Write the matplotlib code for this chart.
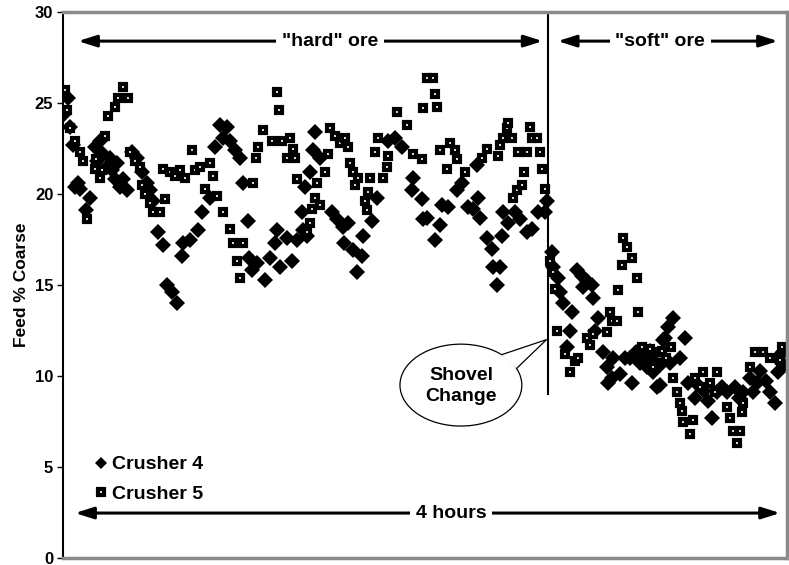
import matplotlib
matplotlib.use("Agg")
import matplotlib.pyplot as plt
from matplotlib.patches import Ellipse, Polygon
import numpy as np

plt.rcParams["font.family"] = ["Liberation Sans", "DejaVu Sans"]
plt.rcParams["font.weight"] = "bold"

# time in minutes since start, feed % coarse
c4_t = [0.3, 1.7, 2.3, 3.3, 4.0, 5.0, 5.6, 7.6, 9.0, 10.6, 11.3, 12.3, 13.3, 14.6,
        15.6, 16.2, 17.2, 17.9, 18.9, 19.9, 21.2, 22.9, 24.5, 26.2, 27.8, 28.8, 29.8,
        31.5, 33.2, 34.5, 36.1, 37.8, 39.4, 39.8, 42.1, 44.8, 46.1, 48.7, 50.4, 52.0,
        53.0, 54.4, 55.4, 57.0, 58.7, 59.7, 61.3, 61.8, 62.7, 64.3, 67.0, 68.6, 70.3,
        70.9, 71.9, 74.3, 75.9, 77.6, 79.2, 79.6, 80.2, 80.9, 81.9, 82.9, 83.5, 85.2,
        89.2, 90.8, 92.8, 93.2, 94.5, 96.1, 97.5, 99.1, 99.5, 102.4, 104.1, 107.7,
        110.1, 112.4, 115.7, 116.0, 119.0, 119.3, 120.7, 123.3, 125.0, 125.6, 127.6,
        130.6, 132.3, 134.3, 135.9, 137.2, 137.6, 138.2, 140.6, 142.2, 142.5, 143.9,
        144.9, 145.5, 145.9, 147.5, 149.8, 151.5, 153.8, 155.5, 157.5, 159.8, 160.5,
        162.1, 162.4, 164.1, 164.8, 165.8, 167.1, 168.1, 168.7, 170.4, 172.1, 172.4,
        173.7, 175.4, 175.7, 176.4, 177.4, 179.0, 180.3, 180.7, 182.0, 182.3, 184.6,
        186.3, 188.0, 188.6, 190.0, 191.3, 192.5, 193.6, 194.5, 195.6, 196.0, 196.9,
        197.9, 198.0, 198.9, 199.6, 200.6, 201.2, 202.2, 204.5, 206.2, 207.2, 209.5,
        210.5, 212.5, 213.8, 215.1, 216.8, 218.5, 220.1, 222.8, 224.0, 225.4, 227.7,
        228.8, 230.0, 231.1, 233.0, 234.4, 236.0, 236.7, 237.1, 238.7, 239.0]
c4_y = [24.4, 25.3, 23.7, 22.7, 20.4, 20.6, 20.3, 19.1, 19.8, 22.6, 21.8, 22.9, 22.2, 21.5,
        22.0, 21.3, 20.8, 21.7, 20.4, 20.8, 20.2, 22.3, 22.0, 21.2, 20.6, 20.2, 19.6,
        17.9, 17.2, 15.0, 14.6, 14.0, 16.6, 17.3, 17.5, 18.0, 19.0, 19.8, 22.6, 23.8,
        23.1, 23.7, 22.9, 22.4, 22.0, 20.6, 18.5, 16.5, 15.8, 16.2, 15.3, 16.5, 17.3,
        18.0, 16.0, 17.6, 16.3, 17.5, 19.0, 18.0, 20.4, 17.7, 21.2, 22.4, 23.4, 22.0,
        19.0, 18.6, 18.2, 17.3, 18.4, 16.9, 15.7, 16.6, 17.7, 18.5, 19.8, 22.9,
        23.1, 22.6, 20.2, 20.9, 19.7, 18.6, 18.7, 17.5, 18.3, 19.4, 19.3,
        20.2, 20.6, 19.3, 19.2, 21.6, 19.8, 18.7, 17.6, 17.0, 16.0, 15.0,
        16.0, 17.7, 19.0, 18.4, 19.0, 18.6, 17.9, 18.1, 19.0, 19.0, 19.6,
        16.8, 16.0, 15.4, 14.6, 14.0, 11.6, 12.5, 13.5, 15.8, 15.5, 14.9,
        15.2, 15.0, 14.3, 12.5, 13.2, 11.3, 10.5, 9.6, 9.9, 11.0, 10.1,
        11.0, 11.0, 9.6, 11.3, 10.7, 11.0, 10.5, 11.4, 10.2, 10.8, 9.4,
        9.5, 10.6, 12.0, 12.1, 12.7, 10.7, 13.2, 11.0, 12.1, 9.6, 8.8,
        9.5, 9.2, 8.6, 7.7, 9.1, 9.4, 9.1, 9.4, 8.8, 9.1, 9.9,
        9.1, 9.6, 10.3, 9.7, 9.1, 8.5, 11.0, 10.2, 11.3, 10.6]

c5_t = [0.7, 1.3, 2.3, 4.0, 5.6, 6.6, 8.0, 10.6, 10.9, 12.3, 12.9, 13.9, 14.9, 17.2,
        18.2, 19.9, 21.5, 22.2, 23.9, 25.5, 26.2, 27.2, 28.8, 29.8, 32.2, 33.2, 33.8,
        35.5, 37.1, 38.8, 40.4, 42.8, 43.8, 45.4, 47.1, 48.7, 49.7, 51.1, 53.0, 55.4,
        56.4, 57.7, 58.7, 59.7, 63.0, 64.0, 64.6, 66.3, 69.3, 70.9, 71.5, 72.6, 74.3,
        75.3, 76.2, 76.9, 77.6, 80.9, 81.9, 82.5, 83.5, 84.2, 85.2, 86.9, 87.8, 88.5,
        90.2, 91.8, 93.5, 94.5, 95.1, 96.1, 96.8, 97.8, 100.1, 100.8, 101.1, 101.8,
        103.4, 104.4, 106.1, 107.4, 107.9, 110.7, 114.0, 116.0, 119.0, 119.3, 120.7,
        122.7, 123.3, 124.0, 125.0, 127.3, 128.3, 130.0, 130.6, 133.3, 138.9, 140.6,
        144.2, 144.9, 145.9, 147.2, 147.5, 148.8, 149.2, 150.5, 150.8, 152.2, 152.8,
        153.8, 154.8, 155.5, 157.1, 158.1, 158.8, 159.8, 161.4, 162.4, 163.1, 163.8,
        166.4, 168.1, 169.7, 170.7, 173.7, 174.7, 175.7, 180.3, 181.3, 182.0, 183.7,
        184.0, 185.3, 185.6, 187.0, 188.6, 190.3, 190.6, 191.9, 194.6, 195.6, 197.2,
        198.5, 200.0, 201.5, 202.2, 203.5, 204.5, 205.2, 205.5, 207.9, 208.8, 209.5,
        211.0, 212.2, 214.5, 216.1, 216.8, 220.1, 221.1, 222.1, 223.4, 224.4, 225.1,
        225.4, 227.7, 229.4, 232.1, 234.4, 237.7, 238.3]
c5_y = [25.7, 24.6, 23.6, 22.9, 22.3, 21.8, 18.6, 21.4, 21.9, 20.9, 21.3, 23.2, 24.3, 24.8,
        25.3, 25.9, 25.3, 22.3, 21.8, 21.5, 20.5, 20.0, 19.5, 19.0, 19.0, 21.4, 19.7,
        21.2, 21.0, 21.3, 20.9, 22.4, 21.3, 21.5, 20.3, 21.7, 21.0, 19.9, 19.0, 18.1,
        17.3, 16.3, 15.4, 17.3, 20.6, 22.0, 22.6, 23.5, 22.9, 25.6, 24.6, 22.9, 22.0,
        23.1, 22.5, 22.0, 20.8, 17.9, 18.4, 19.2, 19.8, 20.6, 19.4, 21.2, 22.2, 23.6,
        23.2, 22.8, 23.1, 22.6, 21.7, 21.2, 20.5, 20.9, 19.6, 19.1, 20.1, 20.9,
        22.3, 23.1, 20.9, 21.5, 22.1, 24.5, 23.8, 22.2, 21.9, 24.7, 26.4,
        26.4, 25.5, 24.8, 22.4, 21.4, 22.8, 22.4, 21.9, 21.2, 22.0, 22.5,
        22.1, 22.7, 23.1, 23.6, 23.9, 23.1, 19.8, 20.2, 22.3, 20.5, 21.2,
        22.3, 23.7, 23.1, 23.1, 22.3, 21.4, 20.3, 16.3, 15.7, 14.8, 12.5,
        11.2, 10.2, 10.8, 11.0, 12.1, 11.7, 12.3, 12.4, 13.5, 13.0, 13.0,
        14.7, 16.1, 17.6, 17.1, 16.5, 15.4, 13.5, 11.6, 11.5, 10.5, 11.3,
        11.4, 11.0, 11.6, 9.9, 9.1, 8.5, 8.1, 7.5, 6.8, 7.6, 9.9,
        9.4, 10.2, 9.6, 9.1, 10.2, 8.3, 7.7, 7.0, 6.3, 7.0, 8.0,
        8.5, 10.5, 11.3, 11.3, 11.0, 10.9, 11.6]

fig = plt.figure(figsize=(7.89, 5.65), dpi=100)
ax = fig.add_axes([63 / 789, 7 / 565, 724 / 789, 546 / 565])

ax.plot(c4_t, c4_y, linestyle="none", marker="D", ms=8.5, color="black",
        markeredgewidth=0, label="Crusher 4")
ax.plot(c5_t, c5_y, linestyle="none", marker="s", ms=5, mfc="white", mec="black",
        mew=3.0, label="Crusher 5")

ax.set_xlim(0, 240)
ax.set_ylim(0, 30)
ax.set_yticks([0, 5, 10, 15, 20, 25, 30])
ax.set_xticks([])
ax.tick_params(axis="y", labelsize=12, length=4, width=1, direction="out", pad=3)
for lab in ax.get_yticklabels():
    lab.set_fontweight("bold")
ax.set_ylabel("Feed % Coarse", fontsize=12.5, fontweight="bold", labelpad=4)

ax.spines["left"].set_color("black")
ax.spines["left"].set_linewidth(1.5)
for s in ["top", "right", "bottom"]:
    ax.spines[s].set_color("#8a8a8a")
    ax.spines[s].set_linewidth(2.5)

arrow_kw = dict(arrowstyle="<|-|>,head_length=1.1,head_width=0.35", color="black",
                lw=2.2, shrinkA=0, shrinkB=0)
txt_kw = dict(fontsize=14, fontweight="bold", ha="center", va="center",
              bbox=dict(facecolor="white", edgecolor="none", pad=4))

# hard / soft ore spans
ax.annotate("", xy=(5.0, 28.4), xytext=(159.0, 28.4), arrowprops=arrow_kw)
ax.text(88.5, 28.4, '"hard" ore', **txt_kw)
ax.annotate("", xy=(164.0, 28.4), xytext=(237.0, 28.4), arrowprops=arrow_kw)
ax.text(198.0, 28.4, '"soft" ore', **txt_kw)

# 4 hours span
ax.annotate("", xy=(4.0, 2.47), xytext=(237.7, 2.47), arrowprops=arrow_kw)
ax.text(128.6, 2.47, "4 hours", **txt_kw)

# shovel change marker
ax.plot([160.8, 160.8], [9.0, 30], color="black", lw=1.5)

cx, cy, w, h = 131.9, 9.5, 40.4, 4.5
ax.add_patch(Ellipse((cx, cy), w, h, facecolor="white", edgecolor="black", lw=0.9, zorder=5))
a1, a2 = np.radians(48), np.radians(24)
p1 = (cx + w / 2 * np.cos(a1), cy + h / 2 * np.sin(a1))
p2 = (cx + w / 2 * np.cos(a2), cy + h / 2 * np.sin(a2))
tip = (160.3, 12.0)
ax.add_patch(Polygon([p1, tip, p2], closed=True, facecolor="white", edgecolor="none", zorder=6))
ax.plot([p1[0], tip[0], p2[0]], [p1[1], tip[1], p2[1]], color="black", lw=0.9, zorder=7)
# white fill over ellipse edge between the pointer base
ax.add_patch(Polygon([p1, (cx + 0.1 * w, cy), p2], closed=True, facecolor="white",
                     edgecolor="none", zorder=6))
ax.text(cx, cy - 0.05, "Shovel\nChange", fontsize=14, fontweight="bold", ha="center",
        va="center", linespacing=1.35, zorder=8)

leg = ax.legend(loc="upper left", bbox_to_anchor=(0.033, 0.205), frameon=False,
                prop=dict(size=14, weight="bold"), handlelength=0.5, handletextpad=0.3,
                labelspacing=0.6, borderpad=0, markerscale=0.75)

fig.savefig("out.png", dpi=100)
